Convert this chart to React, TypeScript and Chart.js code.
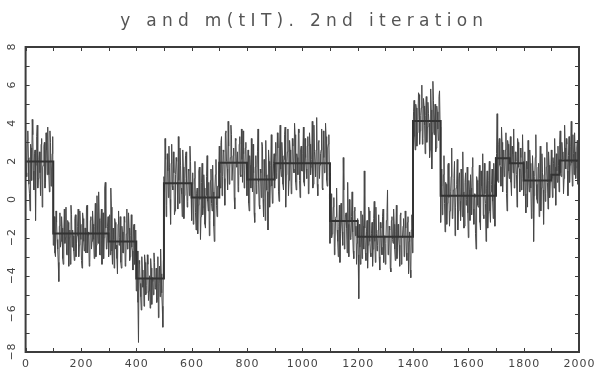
import React, { useEffect, useRef } from "react";
import { Chart, registerables } from "chart.js";

Chart.register(...registerables);

const TITLE = "y and m(tIT). 2nd iteration";
const SAMPLE_STEP = 2;

const yEvenA = [
  2.9, 1.2, 3.6, 0.8, -0.6, 2.7, 4.2, 1.5, 2.4, -1.1, 3.3, 0.6, 2.1, 1.4, 2.9, -0.4, 1.8, 3.0, 0.9, 2.6, 3.8, 1.3, 3.6, 0.7, 2.4,
  -2.4, -0.9, -3.0, -1.2, -2.6, -4.3, -0.7, -2.2, -1.5, -3.4, -0.5, -2.0, -2.9, -1.1, -3.5, -1.6, -0.3, -2.5, -1.9, -3.2, -0.8, -2.3, -1.4, -3.0, -0.6,
  -2.1, -3.6, -1.0, -2.7, -1.5, -0.4, -2.8, -1.7, -3.3, -0.9, -2.2, -1.3, -3.1, -0.2, -2.4, -1.6, 0.4, -2.9, -1.1, -3.4, -0.7, -2.0, 0.9, -2.6, -1.4,
  -3.0, -0.8, 0.6, -2.7, -1.5, -3.6, -1.2, -2.4, -3.9, -0.6, -2.0, -3.3, -1.4, -2.8, -0.9, -3.5, -1.8, -2.6, -0.7, -3.2, -1.9, -2.5, -3.7, -1.3, -2.9,
  -4.8, -2.7, -7.5, -3.4, -5.1, -3.0, -4.6, -5.6, -3.3, -4.9, -2.9, -5.3, -4.0, -3.1, -5.5, -4.3, -2.8, -4.7, -3.6, -5.2, -6.2, -3.5, -2.6, -4.9, -6.7,
];
const yEvenB = [
  1.2, 3.2, -0.9, 2.4, 0.1, 1.7, -1.3, 2.9, 0.5, 1.4, -0.6, 2.2, 0.9, 3.3, -0.2, 1.8, 0.3, 2.6, -1.0, 1.1, 2.5, -0.4, 1.6, 0.2, 2.0,
  -1.1, 1.4, -0.5, 2.0, -1.6, 0.6, -0.3, 1.7, -2.1, 0.9, -0.8, 1.3, -1.3, 0.2, 2.3, -0.6, -1.9, 1.0, -0.2, 1.8, -1.4, 0.5, 2.1, -0.9, 0.7,
  2.8, 0.6, 3.3, 1.2, 2.5, -0.3, 3.6, 1.6, 4.1, 0.8, 2.2, 3.4, 1.0, 2.7, -0.5, 3.1, 1.8, 0.4, 2.9, 1.3, 3.7, 0.9, 2.4, 1.5, 3.0,
  0.2, 2.6, -0.6, 1.8, 3.2, 0.4, 1.4, -1.2, 2.3, 0.8, 3.7, -0.3, 1.6, 0.1, 2.8, -0.9, 1.2, 3.1, 0.5, -1.6, 2.0, 0.7, 3.4, -0.2, 1.9,
  0.6, 3.0, 1.4, 2.7, -0.1, 3.9, 1.2, 2.3, 0.5, 3.4, -0.4, 2.0, 3.7, 1.0, 2.6, 0.3, 3.2, 1.6, 4.0, 0.9, 2.4, 1.3, 3.5, 0.1, 2.8,
];
const yEvenC = [
  1.5, 3.8, 0.7, 2.2, 1.1, 3.3, 0.4, 2.9, 1.7, 4.1, 0.8, 2.5, 1.2, 4.3, 0.2, 3.1, 1.8, 2.6, 0.6, 3.6, 1.4, 4.0, 1.0, 2.7, 3.4,
  -2.3, 0.3, -1.8, -0.4, -2.9, -1.0, 0.6, -2.2, -1.4, -3.3, -0.2, -1.7, 2.2, -2.6, -0.8, -1.5, 0.9, -3.0, -1.1, -2.0, 0.4, -2.7, -0.6, -1.9, -3.4,
  -1.0, -5.2, -2.5, -0.6, -3.1, -1.4, 1.5, -2.8, -1.7, -3.6, -0.4, -2.2, -3.0, -1.2, -2.6, -0.1, -3.3, -1.8, -2.4, -0.8, -3.7, -1.5, -2.9, -0.5, -2.1,
  -3.4, -1.1, 0.5, -2.7, -1.6, -3.8, -0.9, -2.3, -1.3, -3.2, -0.3, -2.5, -1.9, -3.5, -0.7, -2.0, -1.4, -3.0, -0.6, -2.8, -1.2, -3.9, -1.7, -4.1, -0.8,
  3.0, 5.2, 2.6, 4.8, 3.5, 5.6, 2.9, 4.4, 6.0, 3.2, 4.9, 2.4, 5.4, 3.8, 4.5, 2.2, 5.8, 1.6, 6.2, 3.4, 5.0, 2.7, 4.6, 3.1, 5.7,
];
const yEvenD = [
  -1.2, 1.6, -0.5, 2.3, -1.7, 0.8, -0.2, 1.9, -1.4, 0.4, 2.7, -0.9, 1.1, -1.9, 0.6, 2.1, -0.6, 1.4, -1.1, 0.2, 2.5, -1.5, 0.9, -0.3, 1.7,
  -2.0, 0.5, 1.3, -0.8, 2.2, -1.3, 0.1, -2.6, 1.0, -0.4, 1.8, -1.6, 0.7, 2.4, -1.0, 0.3, -2.2, 1.5, -0.7, 2.0, -1.2, 0.8, -0.1, 1.9, -1.4,
  1.3, 4.5, 0.9, 3.2, 1.7, 3.8, 0.4, 2.6, 1.5, 3.5, -0.6, 2.9, 1.1, 3.3, 0.2, 2.4, 3.7, 0.8, 2.0, -0.4, 3.0, 1.6, 2.7, 0.5, 3.4,
  0.2, 2.5, -0.7, 1.6, 3.1, 0.4, 1.9, -1.0, 2.3, -2.2, 1.2, 3.4, 0.0, 1.7, -0.9, 2.8, 0.6, 1.4, -1.3, 2.2, 0.3, 3.0, -0.5, 1.8, 0.9,
  2.6, 0.1, 1.9, 3.2, -0.3, 1.5, 2.8, 0.4, 3.6, 1.2, 2.5, 0.3, 3.9, 1.6, 2.9, 0.2, 3.3, 1.8, 4.1, 0.7, 2.4, 3.5, 1.1, 2.7, 0.8, 2.2,
];

// observed series y at t = 2, 6, 10, ...
const yOddA = [
  1.4, 3.1, 2.2, 0.3, 2.9, 1.0, 3.4, 0.5, 2.6, 1.8, 3.9, 1.1, 2.5, 0.2, 3.2, 1.7, 2.8, 0.6, 3.5, 1.3, 2.0, 0.4, 3.0, 1.6, 3.3,
  -1.3, -2.8, -0.6, -2.1, -3.3, -1.4, -2.5, -0.9, -3.1, -1.7, -2.3, -0.4, -2.9, -1.2, -2.0, -3.4, -0.8, -1.6, -2.7, -1.0, -3.0, -1.9, -0.5, -2.4, -1.3,
  -3.2, -0.7, -2.2, -1.5, -2.8, -0.3, -1.9, -3.5, -1.1, -2.6, -0.6, -2.1, -1.4, -3.0, 0.2, -2.3, -1.0, -2.9, -0.5, -1.8, -3.1, 0.6, -1.5, -2.5, -0.9,
  -1.6, -2.9, -0.4, -3.4, -2.1, -1.0, -2.6, -3.1, -1.3, -2.4, -0.9, -3.6, -1.7, -2.8, -1.2, -3.3, -0.5, -2.3, -1.5, -3.0, -0.8, -2.7, -1.4, -3.4, -1.6,
  -3.8, -5.4, -3.2, -4.4, -5.8, -3.7, -4.2, -2.9, -5.0, -4.5, -3.4, -4.8, -5.7, -3.6, -4.1, -5.0, -3.3, -4.6, -5.4, -3.0, -4.4, -5.1, -3.9, -5.6, -3.2,
];
const yOddB = [
  0.4, 2.1, -0.3, 1.5, 2.8, 0.0, 1.9, 0.7, 2.5, -0.8, 1.3, 2.0, -0.5, 1.0, 2.7, 0.6, -0.9, 1.7, 0.2, 2.3, 0.9, -0.1, 1.5, 2.8, 0.3,
  0.8, -1.3, 1.1, -0.7, 0.3, -1.8, 1.5, 0.0, -0.9, 1.9, -0.4, 0.6, -1.5, 1.2, -0.1, 0.9, -1.1, 1.6, -0.6, 0.4, -2.2, 1.3, -0.3, 0.7, 1.5,
  1.4, 3.0, 0.2, 2.6, 1.1, 3.5, 2.0, 0.5, 2.8, 1.6, 3.9, 1.0, 2.3, 0.1, 3.2, 1.7, 2.5, 0.7, 3.3, 1.2, 2.1, 3.6, 0.6, 2.7, 1.4,
  1.5, -0.2, 2.3, 0.6, 1.1, 2.9, -0.7, 1.7, 0.3, 2.5, 0.9, -0.5, 1.4, 3.0, 0.0, 2.1, -1.1, 1.3, 0.4, 2.6, -0.4, 1.8, 0.7, 1.2, 2.4,
  2.3, 1.1, 3.5, 0.4, 2.7, 1.6, 3.0, 0.8, 2.1, 3.8, 1.3, 2.5, 0.2, 3.1, 1.9, 0.7, 2.8, 1.4, 3.4, 0.5, 2.2, 3.7, 1.0, 2.6, 1.5,
];
const yOddC = [
  2.4, 0.9, 3.2, 1.6, 2.8, 0.3, 3.5, 1.3, 2.1, 0.6, 3.9, 1.9, 2.6, 0.8, 3.0, 1.1, 2.4, 3.7, 0.5, 2.2, 1.5, 3.3, 0.7, 2.9, 1.2,
  -0.6, -2.0, -1.2, 0.1, -2.5, -0.9, -1.6, -3.0, -0.3, -1.8, -1.1, -2.4, 0.5, -1.5, -0.7, -2.8, -1.3, 0.0, -2.1, -0.9, -1.7, -3.1, -0.4, -1.4, -2.3,
  -2.9, -1.3, -3.4, -2.0, -0.8, -2.6, -1.5, -3.2, -1.1, -2.4, -0.6, -2.8, -1.8, -3.5, -1.0, -2.2, -0.4, -2.7, -1.6, -3.0, -1.2, -2.5, -0.9, -3.3, -1.9,
  -2.3, -0.7, -2.9, -1.4, -3.6, -1.1, -2.1, -0.5, -2.6, -1.7, -3.1, -1.3, -2.4, -0.8, -3.4, -2.0, -1.0, -2.7, -1.5, -3.2, -0.9, -2.2, -3.7, -1.6, -2.8,
  4.6, 3.3, 5.0, 2.8, 4.2, 5.5, 3.6, 4.8, 2.9, 5.3, 3.9, 4.4, 3.0, 5.1, 4.0, 2.6, 4.7, 3.5, 5.2, 4.1, 2.5, 4.9, 3.7, 5.4, 3.8,
];
const yOddD = [
  0.7, -0.8, 1.3, -0.2, 0.9, -1.3, 1.8, 0.1, -0.6, 1.2, -1.0, 0.5, 2.0, -0.4, 0.8, -1.6, 1.1, -0.1, 1.6, -0.9, 0.4, -1.4, 1.4, 0.0, -0.7,
  1.0, -1.1, 0.6, 1.7, -0.5, 0.3, -1.8, 1.2, -0.3, 0.9, -1.2, 1.5, 0.2, -0.8, 1.9, -0.2, 0.6, -1.5, 1.0, -0.6, 0.4, 1.6, -1.0, 0.8, 2.2,
  2.4, 1.0, 2.9, 1.8, 0.7, 3.0, 2.1, 1.2, 2.6, 0.3, 3.1, 1.5, 2.3, 0.9, 2.8, 1.4, 0.6, 2.5, 1.3, 3.2, 1.7, 0.4, 2.2, 1.1, 2.0,
  1.4, 0.3, 2.0, -0.4, 1.1, 2.6, 0.6, -0.7, 1.5, 0.2, 2.2, 0.8, -0.2, 1.9, 1.1, -0.6, 2.4, 0.5, 1.3, -0.1, 1.7, 0.9, 2.5, 0.1, 1.5,
  1.1, 2.2, 0.6, 1.7, 2.4, 0.9, 1.8, 2.9, 1.4, 3.0, 2.1, 1.1, 2.7, 3.2, 1.5, 2.3, 0.9, 2.8, 1.9, 3.4, 1.3, 2.5, 1.7, 3.1, 2.0,
];

// estimated piecewise-constant mean m(t|T)
const mBreaks = [0, 100, 300, 400, 500, 600, 700, 800, 900, 1100, 1200, 1400, 1500, 1700, 1750, 1800, 1900, 1930, 2000];
const mLevels = [2.0, -1.78, -2.2, -4.15, 0.85, 0.1, 1.93, 1.05, 1.9, -1.13, -1.95, 4.12, 0.2, 2.16, 1.9, 1.0, 1.3, 2.05];

const xMinorTicks = [0, 100, 200, 300, 400, 500, 600, 700, 800, 900, 1000, 1100, 1200, 1300, 1400, 1500, 1600, 1700, 1800, 1900, 2000];
const xLabelTicks = [0, 200, 400, 600, 800, 1000, 1200, 1400, 1600, 1800, 2000];
const yMinorTicks = [-8, -7, -6, -5, -4, -3, -2, -1, 0, 1, 2, 3, 4, 5, 6, 7, 8];
const yLabelTicks = [-8, -6, -4, -2, 0, 2, 4, 6, 8];

const INK = "#3c3c3c";

const framePlugin = {
  id: "framePlugin",
  afterDraw(chart: any) {
    const { ctx, chartArea, scales } = chart;
    const { left, right, top, bottom } = chartArea;
    const xs = scales.x;
    const ys = scales.y;
    ctx.save();
    ctx.strokeStyle = INK;
    ctx.lineWidth = 1;
    const tl = 4;
    ctx.beginPath();
    for (const v of xMinorTicks) {
      const px = Math.round(xs.getPixelForValue(v)) + 0.5;
      ctx.moveTo(px, top);
      ctx.lineTo(px, top + tl);
      ctx.moveTo(px, bottom);
      ctx.lineTo(px, bottom - tl);
    }
    for (const v of yMinorTicks) {
      const py = Math.round(ys.getPixelForValue(v)) + 0.5;
      ctx.moveTo(left, py);
      ctx.lineTo(left + tl, py);
      ctx.moveTo(right, py);
      ctx.lineTo(right - tl, py);
    }
    ctx.stroke();
    ctx.lineWidth = 2;
    ctx.strokeRect(left, top, right - left, bottom - top);

    ctx.fillStyle = "#444";
    ctx.font = "11px 'DejaVu Sans'";
    (ctx as any).letterSpacing = "1px";
    ctx.textAlign = "center";
    ctx.textBaseline = "alphabetic";
    for (const v of xLabelTicks) {
      const px = xs.getPixelForValue(v);
      ctx.fillText(String(v), px + 0.5, bottom + 15);
    }
    ctx.textBaseline = "middle";
    for (const v of yLabelTicks) {
      const py = ys.getPixelForValue(v);
      ctx.save();
      ctx.translate(12.5, py);
      ctx.rotate(-Math.PI / 2);
      ctx.fillText(v < 0 ? "\u2212" + String(-v) : String(v), 0.5, 0);
      ctx.restore();
    }

    ctx.font = "17px 'DejaVu Sans'";
    (ctx as any).letterSpacing = "5.3px";
    ctx.textBaseline = "alphabetic";
    ctx.fillStyle = "#555";
    ctx.fillText(TITLE, (left + right) / 2 + 2, 26);
    ctx.restore();
  },
};

export default function App() {
  const canvasRef = useRef<HTMLCanvasElement | null>(null);

  useEffect(() => {
    const canvas = canvasRef.current;
    if (!canvas) return;
    const yEven = [...yEvenA, ...yEvenB, ...yEvenC, ...yEvenD];
    const yOdd = [...yOddA, ...yOddB, ...yOddC, ...yOddD];
    const yPoints: { x: number; y: number }[] = [];
    for (let i = 0; i < yEven.length; i++) {
      yPoints.push({ x: 2 * i * SAMPLE_STEP, y: yEven[i] });
      if (i < yOdd.length) yPoints.push({ x: (2 * i + 1) * SAMPLE_STEP, y: yOdd[i] });
    }
    const mPoints = mLevels.map((v, i) => ({ x: mBreaks[i], y: v }));
    mPoints.push({ x: mBreaks[mBreaks.length - 1], y: mLevels[mLevels.length - 1] });

    const chart = new Chart(canvas, {
      type: "line",
      data: {
        datasets: [
          {
            label: "m(t|T)",
            data: mPoints,
            borderColor: "#333333",
            borderWidth: 2,
            pointRadius: 0,
            stepped: true,
            order: 0,
          } as any,
          {
            label: "y",
            data: yPoints,
            borderColor: "#474747",
            borderWidth: 1,
            pointRadius: 0,
            tension: 0,
            order: 1,
          },
        ],
      },
      options: {
        responsive: false,
        animation: false,
        devicePixelRatio: 1,
        layout: { padding: { left: 25.6, right: 20, top: 47, bottom: 18 } },
        plugins: {
          legend: { display: false },
          title: { display: false },
          tooltip: { enabled: false },
        },
        scales: {
          x: { type: "linear", min: 0, max: 2000, display: false },
          y: { type: "linear", min: -8, max: 8, display: false },
        },
      },
      plugins: [framePlugin],
    });
    return () => chart.destroy();
  }, []);

  return (
    <div style={{ position: "absolute", left: 0, top: 0, width: 599, height: 370, background: "#fff" }}>
      <canvas ref={canvasRef} width={599} height={370} style={{ width: 599, height: 370, display: "block" }} />
    </div>
  );
}
